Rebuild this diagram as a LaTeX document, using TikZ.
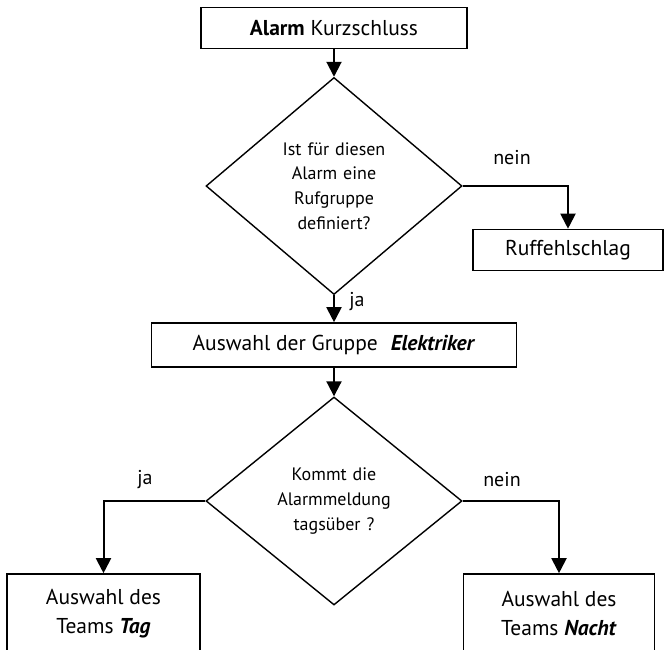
\documentclass[tikz,border=0pt]{standalone}
\usepackage{fontspec}
\setmainfont{PT Sans}
\usetikzlibrary{shapes.geometric,arrows.meta}
\tikzset{
  box/.style={draw, line width=1.6pt, rectangle, inner sep=0pt, align=center, font=\fontsize{21.5}{29}\selectfont},
  decision/.style={draw, line width=1.4pt, diamond, inner sep=0pt, minimum width=256pt, minimum height=208pt, text width=130pt, align=center, font=\fontsize{18}{24.7}\selectfont},
  arr/.style={line width=2pt, -{Triangle[width=15pt,length=15pt]}},
  lbl/.style={inner sep=0pt, font=\fontsize{20}{25}\selectfont},
}
\begin{document}
\begin{tikzpicture}[x=1pt,y=-1pt]
\useasboundingbox (0,0) rectangle (667,650);
\clip (0,0) rectangle (667,650);
\node[box, minimum width=266pt, minimum height=41pt] (top) at (334,28) {\textbf{Alarm} Kurzschluss};
\node[decision] (d1) at (334,186) {Ist für diesen\\Alarm eine\\Rufgruppe\\definiert?\\[-6pt]};
\node[box, minimum width=190pt, minimum height=41pt] (ruf) at (568,250) {Ruffehlschlag};
\node[box, minimum width=365pt, minimum height=44pt] (grp) at (334,345) {Auswahl der Gruppe\hspace{0.6em}\textbf{\textit{Elektriker}}};
\node[decision] (d2) at (334,501) {Kommt die\\Alarmmeldung\\tagsüber ?};
\node[box, minimum width=193pt, minimum height=80pt] (tag) at (103.5,614) {Auswahl des\\Teams \textbf{\textit{Tag}}};
\node[box, minimum width=191pt, minimum height=80pt] (nacht) at (559,614) {Auswahl des\\Teams \textbf{\textit{Nacht}}};
\node[lbl] (l1) at (512,158) {nein};
\node[lbl] (l2) at (357,302) {ja};
\node[lbl] (l3) at (145,480) {ja};
\node[lbl] (l4) at (502,480) {nein};
\draw[arr] (top.south) -- (d1.north);
\draw[arr] (d1.east) -| (ruf.north);
\draw[arr] (d1.south) -- (grp.north);
\draw[arr] (grp.south) -- (d2.north);
\draw[arr] (d2.west) -| (tag.north);
\draw[arr] (d2.east) -| (nacht.north);
\end{tikzpicture}
\end{document}
